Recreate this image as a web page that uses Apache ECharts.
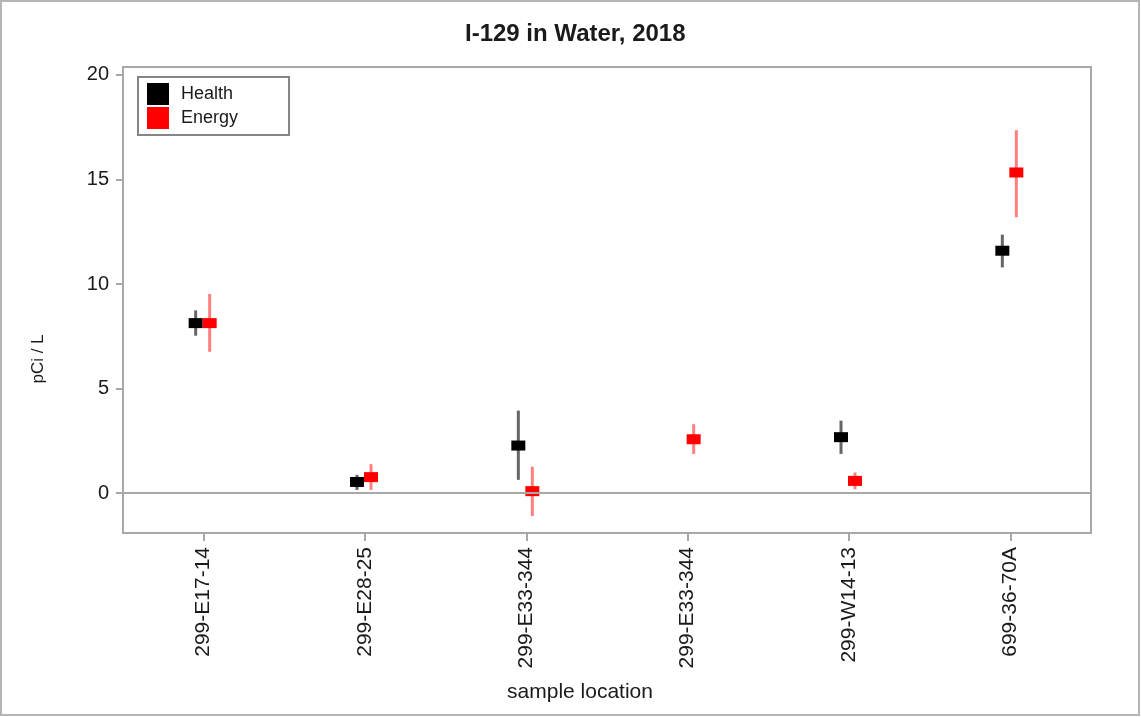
<!DOCTYPE html>
<html>
<head>
<meta charset="utf-8">
<script src="https://cdn.jsdelivr.net/npm/echarts@6/dist/echarts.min.js"></script>
<style>
html,body{margin:0;padding:0;background:#fff;}
#chart{width:1141px;height:717px;}
</style>
</head>
<body>
<div id="chart"></div>
<script>
const categories = ['299-E17-14', '299-E28-25', '299-E33-344', '299-E33-344', '299-W14-13', '699-36-70A'];
const healthValue = [8.13, 0.54, 2.28, null, 2.68, 11.59];
const healthLow   = [7.53, 0.16, 0.64, null, 1.88, 10.79];
const healthHigh  = [8.74, 0.88, 3.95, null, 3.47, 12.36];
const energyValue = [8.13, 0.77, 0.10, 2.58, 0.59, 15.33];
const energyLow   = [6.76, 0.16, -1.09, 1.88, 0.19, 13.19];
const energyHigh  = [9.52, 1.39, 1.27, 3.30, 0.99, 17.35];
const yTicks = [0, 5, 10, 15, 20];

function buildData(vals, lows, highs) {
  const out = [];
  vals.forEach((v, i) => {
    if (v !== null) out.push([i, v, lows[i], highs[i]]);
  });
  return out;
}

function makeRender(dx, markColor, barColor) {
  return function (params, api) {
    const c = api.coord([api.value(0), api.value(1)]);
    const lo = api.coord([api.value(0), api.value(2)]);
    const hi = api.coord([api.value(0), api.value(3)]);
    const x = c[0] + dx;
    return {
      type: 'group',
      children: [
        { type: 'line', shape: { x1: x, y1: lo[1], x2: x, y2: hi[1] },
          style: { stroke: barColor, lineWidth: 3 } },
        { type: 'rect', shape: { x: x - 7, y: c[1] - 5, width: 14, height: 10 },
          style: { fill: markColor } }
      ]
    };
  };
}

const FONT = 'Liberation Sans, Arial, sans-serif';
const chart = echarts.init(document.getElementById('chart'));
chart.setOption({
  animation: false,
  backgroundColor: '#fff',
  textStyle: { fontFamily: FONT },
  title: {
    text: 'I-129 in Water, 2018',
    left: 460, top: 17,
    textStyle: { fontSize: 24, fontWeight: 'bold', color: '#1a1a1a', fontFamily: FONT }
  },
  graphic: [{
    type: 'rect', silent: true, z: 100,
    shape: { x: 1, y: 1, width: 1138, height: 714 },
    style: { fill: 'none', stroke: '#b5b5b5', lineWidth: 2 }
  }],
  legend: {
    orient: 'vertical', left: 138, top: 77,
    padding: [6, 51, 6, 9],
    itemWidth: 22, itemHeight: 22, itemGap: 2,
    borderColor: '#858585', borderWidth: 2,
    icon: 'rect',
    textStyle: { fontSize: 18, color: '#1a1a1a', padding: [0, 0, 0, 7], fontFamily: FONT },
    data: ['Health', 'Energy']
  },
  grid: {
    left: 123, right: 50, top: 67, bottom: 184,
    show: true, borderColor: '#a8a8a8', borderWidth: 2
  },
  xAxis: {
    type: 'category',
    data: categories,
    name: 'sample location',
    nameLocation: 'middle',
    nameGap: 149,
    nameTextStyle: { fontSize: 21, color: '#1a1a1a', padding: [0, 54, 0, 0] },
    axisLine: { show: false, onZero: false },
    axisTick: { show: true, alignWithLabel: true, length: 8, lineStyle: { color: '#a8a8a8', width: 2 } },
    axisLabel: { rotate: 90, fontSize: 21, color: '#1a1a1a', margin: 14, interval: 0 },
    splitLine: { show: false }
  },
  yAxis: {
    type: 'value',
    min: -1.9, max: 20.37,
    name: 'pCi / L',
    nameLocation: 'middle',
    nameGap: 76,
    nameRotate: 90,
    nameTextStyle: { fontSize: 17, color: '#1a1a1a', padding: [0, 118, 0, 0] },
    axisLine: { show: false },
    axisTick: { show: true, length: 7, customValues: yTicks, lineStyle: { color: '#a8a8a8', width: 2 } },
    axisLabel: { fontSize: 20, color: '#1a1a1a', margin: 14, customValues: yTicks },
    splitLine: { show: false }
  },
  series: [
    {
      name: 'Health', type: 'custom',
      itemStyle: { color: '#000000' },
      encode: { x: 0, y: [1, 2, 3] },
      data: buildData(healthValue, healthLow, healthHigh),
      renderItem: makeRender(-8, '#000000', 'rgba(0,0,0,0.6)'),
      markLine: {
        silent: true, symbol: 'none', label: { show: false },
        lineStyle: { color: '#a8a8a8', width: 2, type: 'solid' },
        data: [{ yAxis: 0 }]
      },
      z: 3
    },
    {
      name: 'Energy', type: 'custom',
      itemStyle: { color: '#ff0000' },
      encode: { x: 0, y: [1, 2, 3] },
      data: buildData(energyValue, energyLow, energyHigh),
      renderItem: makeRender(6, '#ff0000', 'rgba(255,0,0,0.5)'),
      z: 4
    }
  ]
});
</script>
</body>
</html>
